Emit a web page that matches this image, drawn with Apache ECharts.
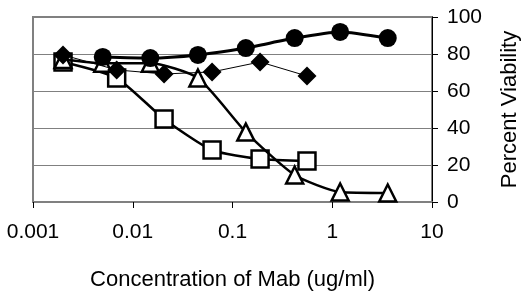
<!DOCTYPE html>
<html>
<head>
<meta charset="utf-8">
<script src="https://cdn.jsdelivr.net/npm/echarts@6/dist/echarts.min.js"></script>
<style>
  html, body { margin: 0; padding: 0; background: #fff; }
  #chart { width: 529px; height: 297px; }
</style>
</head>
<body>
<div id="chart"></div>
<script>
// concentration (ug/ml) and percent viability
const circleX = [0.005, 0.015, 0.045, 0.136, 0.42, 1.2, 3.6];
const circleY = [78.4, 77.8, 79.5, 83.2, 88.6, 91.9, 88.6];

const triangleX = [0.002, 0.005, 0.015, 0.045, 0.136, 0.42, 1.2, 3.6];
const triangleY = [77, 75, 75, 67, 37.8, 14.6, 5.4, 4.9];

const diamondX = [0.002, 0.0069, 0.0206, 0.0624, 0.189, 0.558];
const diamondY = [79.5, 71.4, 69.2, 70.3, 75.7, 68.1];

const squareX = [0.002, 0.0069, 0.0206, 0.0624, 0.189, 0.558];
const squareY = [75.7, 67, 44.9, 28.1, 23.2, 22.2];

const xTickLabels = { 0.001: '0.001', 0.01: '0.01', 0.1: '0.1', 1: '1', 10: '10' };

const pairs = (xs, ys) => xs.map((x, i) => [x, ys[i]]);

const chart = echarts.init(document.getElementById('chart'));
const font = 'Liberation Sans, Arial, sans-serif';

chart.setOption({
  animation: false,
  backgroundColor: '#fff',
  grid: {
    left: 33, right: 97, top: 17, bottom: 95,
    show: true, borderColor: '#808080', borderWidth: 2
  },
  xAxis: {
    type: 'log',
    logBase: 10,
    min: 0.001,
    max: 10,
    name: 'Concentration of Mab (ug/ml)',
    nameLocation: 'middle',
    nameGap: 67,
    nameTextStyle: { color: '#000', fontSize: 22, fontFamily: font },
    axisLine: { lineStyle: { color: '#808080', width: 2 } },
    axisTick: { show: true, length: 6, lineStyle: { color: '#000', width: 1 } },
    minorTick: { show: false },
    splitLine: { show: false },
    axisLabel: {
      color: '#000', fontSize: 21, fontFamily: font, margin: 20,
      formatter: v => xTickLabels[v] !== undefined ? xTickLabels[v] : String(v)
    }
  },
  yAxis: {
    type: 'value',
    position: 'right',
    min: 0,
    max: 100,
    interval: 20,
    name: 'Percent Viability',
    nameLocation: 'middle',
    nameRotate: 90,
    nameGap: 67,
    nameTextStyle: { color: '#000', fontSize: 22, fontFamily: font },
    axisLine: { show: true, lineStyle: { color: '#000', width: 1 } },
    axisTick: { show: true, inside: false, length: 6, lineStyle: { color: '#000' } },
    splitLine: { show: true, lineStyle: { color: '#808080', width: 1 } },
    axisLabel: { color: '#000', fontSize: 21, fontFamily: font, margin: 15 }
  },
  series: [
    {
      type: 'line',
      data: pairs(squareX, squareY),
      smooth: 0.2,
      symbol: 'rect',
      symbolSize: 17,
      lineStyle: { color: '#000', width: 2.5 },
      itemStyle: { color: '#fff', borderColor: '#000', borderWidth: 2.5 },
      z: 2
    },
    {
      type: 'line',
      data: pairs(triangleX, triangleY),
      smooth: 0.2,
      symbol: 'triangle',
      symbolSize: 17,
      lineStyle: { color: '#000', width: 2.5 },
      itemStyle: { color: '#fff', borderColor: '#000', borderWidth: 2.5 },
      z: 3
    },
    {
      type: 'line',
      data: pairs(diamondX, diamondY),
      symbol: 'diamond',
      symbolSize: 19,
      lineStyle: { color: '#000', width: 1 },
      itemStyle: { color: '#000' },
      z: 4
    },
    {
      type: 'line',
      data: pairs(circleX, circleY),
      smooth: 0.2,
      symbol: 'circle',
      symbolSize: 18,
      lineStyle: { color: '#000', width: 3 },
      itemStyle: { color: '#000' },
      z: 5
    }
  ]
});
</script>
</body>
</html>
